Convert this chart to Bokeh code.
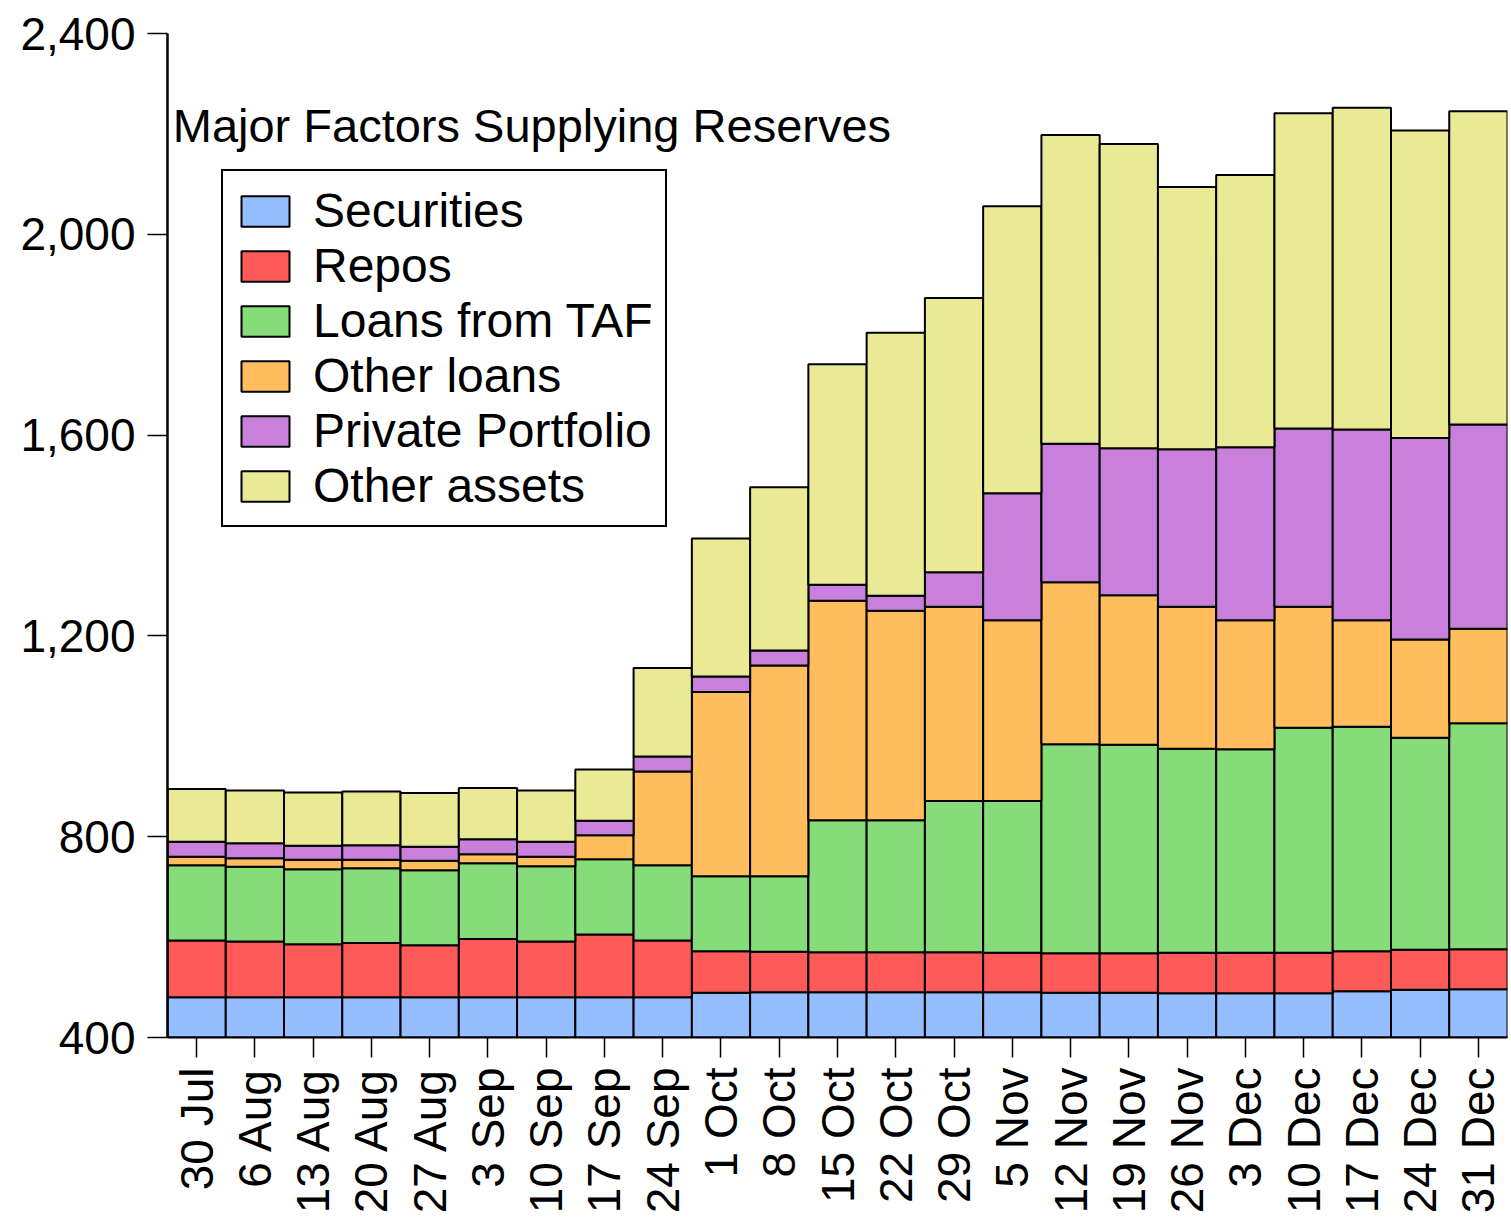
import math
from bokeh.plotting import figure
from bokeh.models import ColumnDataSource, FactorRange, Range1d, NumeralTickFormatter, FixedTicker, Label, Legend
from bokeh.embed import file_html
from bokeh.resources import INLINE

dates = ["30 Jul", "6 Aug", "13 Aug", "20 Aug", "27 Aug", "3 Sep", "10 Sep", "17 Sep", "24 Sep",
         "1 Oct", "8 Oct", "15 Oct", "22 Oct", "29 Oct", "5 Nov", "12 Nov", "19 Nov", "26 Nov",
         "3 Dec", "10 Dec", "17 Dec", "24 Dec", "31 Dec"]

securities = [480, 480, 480, 480, 480, 480, 480, 480, 480, 489, 490, 490, 490, 490, 490, 489, 489, 488, 488, 488, 492, 495, 496]
repos = [113, 111, 106, 108, 104, 116, 111, 125, 113, 83, 81, 80, 80, 80, 79, 79, 79, 81, 81, 81, 80, 80, 80]
taf = [150, 149, 149, 149, 149, 151, 150, 150, 150, 149, 150, 263, 263, 301, 302, 416, 415, 406, 405, 448, 447, 422, 450]
other_loans = [17, 17, 19, 17, 19, 18, 19, 48, 187, 367, 420, 437, 417, 387, 360, 323, 298, 283, 257, 241, 212, 196, 188]
private_portfolio = [30, 30, 28, 29, 28, 30, 30, 29, 30, 31, 30, 32, 30, 69, 253, 276, 293, 314, 345, 355, 380, 401, 407]
other_assets = [105, 105, 106, 107, 107, 102, 102, 102, 176, 275, 325, 439, 524, 546, 572, 615, 606, 522, 542, 628, 641, 613, 624]

series_names = ["Securities", "Repos", "Loans from TAF", "Other loans", "Private Portfolio", "Other assets"]
colors = ["#94BEFF", "#FF5A5A", "#85DC78", "#FFBD5E", "#C880DC", "#EAEA96"]
y_ticks = [400, 800, 1200, 1600, 2000, 2400]
title_text = "Major Factors Supplying Reserves"

source = ColumnDataSource(data=dict(
    date=dates,
    s0=securities, s1=repos, s2=taf, s3=other_loans, s4=private_portfolio, s5=other_assets,
))
keys = ["s0", "s1", "s2", "s3", "s4", "s5"]

FONT = "Liberation Sans"

p = figure(
    width=1510, height=1222,
    x_range=FactorRange(factors=dates, range_padding=0),
    y_range=Range1d(400, 2400),
    output_backend="svg", toolbar_location=None,
    min_border_left=167, min_border_right=3, min_border_top=33, min_border_bottom=185,
)
p.outline_line_color = None
p.xgrid.visible = False
p.ygrid.visible = False
p.background_fill_color = "white"

renderers = p.vbar_stack(keys, x="date", width=1.0, source=source,
                         fill_color=colors, line_color="black", line_width=2)

legend = Legend(items=[(name, [r]) for name, r in zip(series_names, renderers)],
                location=(54, 510))
legend.label_text_font = FONT
legend.label_text_font_size = "48px"
legend.label_text_color = "black"
legend.glyph_width = 60
legend.glyph_height = 38
legend.label_height = 36
legend.label_standoff = 18
legend.spacing = 0
legend.padding = 12
legend.border_line_color = "black"
legend.border_line_alpha = 1.0
legend.border_line_width = 2
legend.background_fill_alpha = 1
p.add_layout(legend)

p.add_layout(Label(x=0.09, y=2217, text=title_text, text_baseline="middle",
                   text_font=FONT, text_font_size="47px", text_color="black"))

ya = p.yaxis[0]
ya.ticker = FixedTicker(ticks=y_ticks)
ya.formatter = NumeralTickFormatter(format="0,0")
ya.major_label_text_font = FONT
ya.major_label_text_font_size = "46px"
ya.major_label_text_color = "black"
ya.major_tick_out = 20
ya.major_tick_in = 0
ya.minor_tick_out = 0
ya.minor_tick_in = 0
ya.major_tick_line_width = 1.5
ya.axis_line_width = 2.5
ya.major_label_standoff = 12

xa = p.xaxis[0]
xa.major_label_orientation = math.pi / 2
xa.major_label_text_font = FONT
xa.major_label_text_font_size = "46px"
xa.major_label_text_color = "black"
xa.major_tick_out = 20
xa.major_tick_in = 0
xa.major_tick_line_width = 1.5
xa.axis_line_width = 2
xa.major_label_standoff = 10

open("out.html", "w").write(file_html(p, INLINE))
